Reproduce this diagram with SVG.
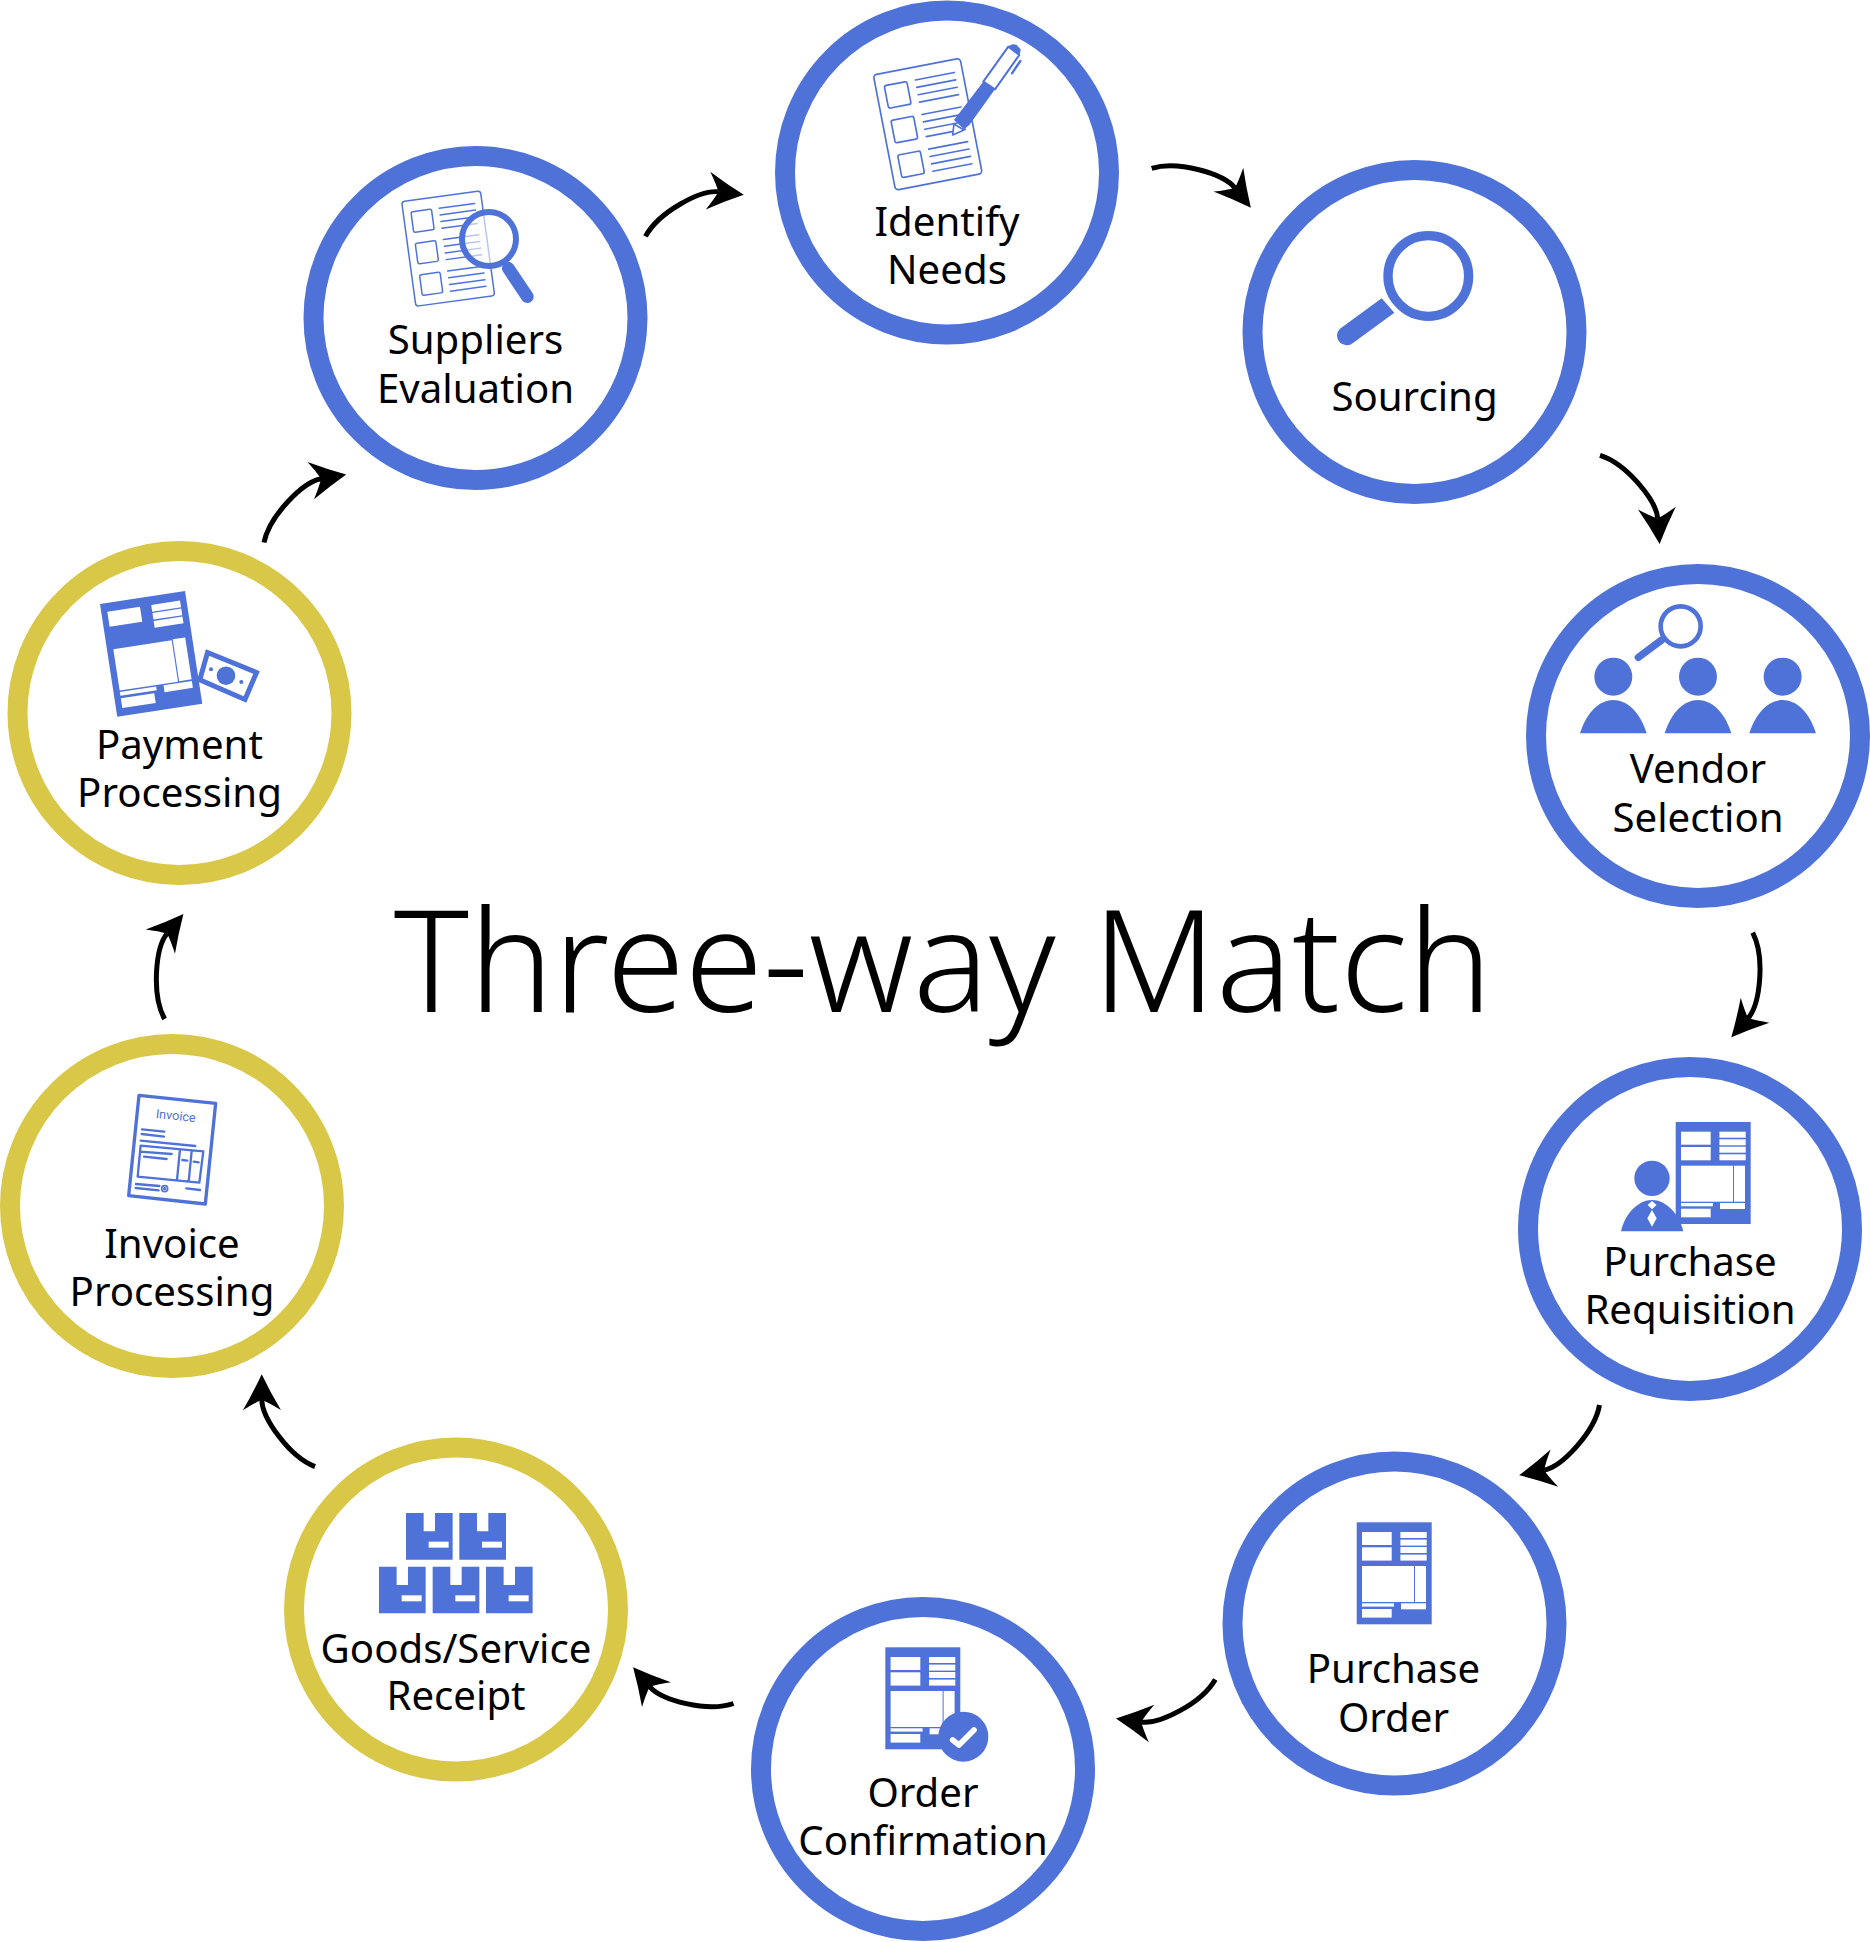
<svg xmlns="http://www.w3.org/2000/svg" xmlns:xlink="http://www.w3.org/1999/xlink" width="1870" height="1942" viewBox="0 0 1870 1942">
<style>
.ring{fill:#fff;stroke-width:20}
.b{stroke:#4f72d9}
.y{stroke:#d9c747}
.l{font-family:"Noto Sans","Open Sans",sans-serif;font-size:40.2px;text-anchor:middle;fill:#000}
.t{font-family:"Noto Sans","Open Sans",sans-serif;font-size:141.8px;font-weight:300;text-anchor:middle;fill:#000}
.f{fill:#4f72d9}
.w{fill:#fff}
.s{fill:none;stroke:#4f72d9;stroke-linecap:round;stroke-linejoin:round}
.arc{fill:none;stroke:#000;stroke-width:5;marker-end:url(#head)}
</style>
<defs>
<marker id="head" markerUnits="userSpaceOnUse" viewBox="-38 -21 40 42" refX="-25.500" refY="0" markerWidth="40" markerHeight="42" orient="auto" overflow="visible">
<path d="M0,0 Q-18,-8.500 -36,-19 Q-29,-8 -25.500,0 Q-29,8 -36,19 Q-18,8.500 0,0Z" fill="#000"/>
</marker>
<g id="form">
<rect class="f" width="75" height="102"/>
<g class="w">
<rect x="5.300" y="9.700" width="29.700" height="13"/><rect x="5.300" y="25" width="29.700" height="13.300"/>
<rect x="43.700" y="9.700" width="26.300" height="6"/><rect x="43.700" y="17.300" width="26.300" height="6"/><rect x="43.700" y="24.700" width="26.300" height="6"/><rect x="43.700" y="32.300" width="26.300" height="6"/>
<rect x="5.300" y="43.700" width="52" height="36"/><rect x="58.300" y="43.700" width="11" height="36"/>
<rect x="5.300" y="81" width="32" height="3.300"/><rect x="5.300" y="86.700" width="29.700" height="8.600"/><rect x="44.300" y="81" width="25" height="6"/>
</g>
</g>
<g id="doc" class="s" stroke-width="5">
<rect width="265" height="352" rx="10"/>
<rect x="26" y="38" width="69" height="69" rx="6"/><rect x="26" y="144" width="69" height="69" rx="6"/><rect x="26" y="250" width="69" height="69" rx="6"/>
<path d="M121,38.500H240M121,61H240M121,83.500H240M121,106H240M121,144H240M121,166.500H240M121,189H240M121,211.500H240M121,250H240M121,272.500H240M121,295H240M121,317.500H240"/>
</g>
<g id="p"><circle cx="250" cy="320" r="57"/><path d="M150,490C170,425 210,390 250,390C290,390 330,425 350,490Z"/></g>
<g id="box"><path d="M0,0H53V55H87V0H140V140H0Z"/><rect class="w" x="68" y="86" width="60" height="18"/></g>
</defs>
<rect width="1870" height="1942" fill="#fff"/>
<g id="connectors">
<path class="arc" d="M0,0C21.500,-17 68.900,-21 84.700,-11.800" transform="translate(1151.700,168.300) rotate(21.200)"/>
<path class="arc" d="M0,0C21.500,-17 68.900,-21 84.700,-11.800" transform="translate(1600,455.400) rotate(55.500)"/>
<path class="arc" d="M0,0C21.500,-17 68.900,-21 84.700,-11.800" transform="translate(1752.700,932.700) rotate(101)"/>
<path class="arc" d="M0,0C21.500,-17 68.900,-21 84.700,-11.800" transform="translate(1599.500,1405) rotate(138.300)"/>
<path class="arc" d="M0,0C21.500,-17 68.900,-21 84.700,-11.800" transform="translate(1215.300,1679.400) rotate(158)"/>
<path class="arc" d="M0,0C21.500,-17 68.900,-21 84.700,-11.800" transform="translate(733.500,1703.500) rotate(199.300)"/>
<path class="arc" d="M0,0C21.500,-17 68.900,-21 84.700,-11.800" transform="translate(315,1466.700) rotate(239.500)"/>
<path class="arc" d="M0,0C21.500,-17 68.900,-21 84.700,-11.800" transform="translate(164.600,1019) rotate(279.600)"/>
<path class="arc" d="M0,0C21.500,-17 68.900,-21 84.700,-11.800" transform="translate(264,542.500) rotate(319.800)"/>
<path class="arc" d="M0,0C21.500,-17 68.900,-21 84.700,-11.800" transform="translate(645.500,236.400) rotate(336.500)"/>
</g>
<text id="title" class="t" x="943" y="1012">Three-way Match</text>
<g id="identify-needs">
<circle class="ring b" cx="947" cy="172.500" r="162"/>
<g transform="translate(760,0) scale(.3333)">
<use xlink:href="#doc" href="#doc" transform="translate(340,225) rotate(-10.900)"/>
<path class="f" d="M582,360L670,245L705,268L628,375L612,388Z"/>
<path class="s" stroke-width="6" style="fill:#fff" d="M670,245L745,140L778,165L705,268Z"/>
<path class="f" d="M745,140Q755,128 770,135L782,148Q782,158 778,165Z"/>
<path class="s" stroke-width="7" d="M781,183L756,220"/>
<path class="s" stroke-width="5" style="fill:#fff" d="M582,372L578,405L612,390Z"/>
</g>
<text class="l" x="947" y="235.500">Identify</text><text class="l" x="947" y="283.500">Needs</text>
</g>
<g id="sourcing">
<circle class="ring b" cx="1414.500" cy="332" r="162"/>
<g transform="translate(1300,210) scale(.3333)">
<circle class="s" cx="385" cy="198" r="121" stroke-width="28"/>
<path class="f" d="M245,265L283,308L160,398A26,26 0 0 1 120,356Z"/>
</g>
<text class="l" x="1414.500" y="410.500">Sourcing</text>
</g>
<g id="vendor-selection">
<circle class="ring b" cx="1698" cy="736" r="162"/>
<g transform="translate(1530,570) scale(.3333)">
<use class="f" xlink:href="#p" href="#p"/><use class="f" xlink:href="#p" href="#p" x="254"/><use class="f" xlink:href="#p" href="#p" x="508"/>
<circle class="s" cx="452" cy="169" r="60" stroke-width="14"/>
<path class="s" stroke-width="22" d="M395,210L325,262"/>
</g>
<text class="l" x="1698" y="783">Vendor</text><text class="l" x="1698" y="832">Selection</text>
</g>
<g id="purchase-requisition">
<circle class="ring b" cx="1690" cy="1229" r="162"/>
<use xlink:href="#form" href="#form" x="1675.700" y="1122"/>
<g transform="translate(1560,1090) scale(.3333)">
<circle class="f" cx="276" cy="265" r="53"/>
<path class="f" d="M183,424C195,370 235,330 276,330C317,330 357,370 370,424Z"/>
<path class="w" d="M276,333L290,345L276,358L263,345ZM276,360L290,385L276,410L262,385Z"/>
</g>
<text class="l" x="1690" y="1276">Purchase</text><text class="l" x="1690" y="1324">Requisition</text>
</g>
<g id="purchase-order">
<circle class="ring b" cx="1394.500" cy="1623.500" r="162"/>
<use xlink:href="#form" href="#form" x="1356.700" y="1522.300"/>
<text class="l" x="1393.500" y="1683">Purchase</text><text class="l" x="1393.500" y="1731.500">Order</text>
</g>
<g id="order-confirmation">
<circle class="ring b" cx="923" cy="1769" r="162"/>
<use xlink:href="#form" href="#form" x="885.300" y="1647.300"/>
<g transform="translate(860,1630) scale(.3333)">
<circle class="f" cx="310" cy="320" r="75"/>
<path d="M278,330L297,345L342,300" fill="none" stroke="#fff" stroke-width="17" stroke-linecap="round" stroke-linejoin="round"/>
</g>
<text class="l" x="923" y="1806.500">Order</text><text class="l" x="923" y="1854.500">Confirmation</text>
</g>
<g id="goods-service-receipt">
<circle class="ring y" cx="456" cy="1609.500" r="162"/>
<g class="f" transform="translate(360,1490) scale(.3333)">
<use xlink:href="#box" href="#box" x="138" y="69"/><use xlink:href="#box" href="#box" x="298" y="69"/>
<use xlink:href="#box" href="#box" x="57" y="230"/><use xlink:href="#box" href="#box" x="218" y="230"/><use xlink:href="#box" href="#box" x="378" y="230"/>
</g>
<text class="l" x="456" y="1662.500">Goods/Service</text><text class="l" x="456" y="1710">Receipt</text>
</g>
<g id="invoice-processing">
<circle class="ring y" cx="172" cy="1206" r="162"/>
<g transform="translate(100,1070) scale(.3333)">
<path class="s" stroke-width="10" d="M117,76L347,100L316,402L86,377Z"/>
<text transform="translate(226,150) rotate(6)" text-anchor="middle" font-family="Roboto,sans-serif" font-size="38" fill="#4f72d9">Invoice</text>
<path class="s" stroke-width="7" d="M126,178L193,185M125,192L192,200M122,212L286,228M122,227L310,244L298,338L113,320ZM240,238L231,330M275,243L266,335M120,245L215,252M132,260L200,267M247,270L262,272M281,275L296,277M108,342L178,348M107,354L176,361M259,355L300,360"/>
<circle class="s" cx="194" cy="356" r="9" stroke-width="5"/><circle class="f" cx="194" cy="356" r="5"/>
</g>
<text class="l" x="172" y="1257.500">Invoice</text><text class="l" x="172" y="1305.500">Processing</text>
</g>
<g id="payment-processing">
<circle class="ring y" cx="179.500" cy="713" r="162"/>
<g transform="translate(100,604) rotate(-8.700) scale(1.147)">
<rect class="f" width="75" height="99.400"/>
<g class="w">
<rect x="5.300" y="7.600" width="28.800" height="13.200"/>
<rect x="44" y="7.600" width="25.400" height="5.900"/><rect x="44" y="14.600" width="25.400" height="5.900"/><rect x="44" y="21.700" width="25.400" height="6"/>
<rect x="5.500" y="40.800" width="51.500" height="36.400"/><rect x="58" y="40" width="11" height="37"/>
<rect x="5.500" y="78.500" width="32" height="3.300"/><rect x="5.500" y="84" width="29.500" height="8.600"/><rect x="44" y="78.500" width="25" height="6"/>
</g>
</g>
<polygon class="s" style="fill:#fff;stroke-linejoin:miter" stroke-width="5" points="207.500,652.500 256.500,672.500 245,699.500 199.800,679.800"/>
<circle class="f" cx="226" cy="675.700" r="9.300"/><circle class="f" cx="211" cy="669.300" r="2"/><circle class="f" cx="241.300" cy="682" r="2"/>
<text class="l" x="179.500" y="758.500">Payment</text><text class="l" x="179.500" y="806.500">Processing</text>
</g>
<g id="suppliers-evaluation">
<circle class="ring b" cx="475.500" cy="318" r="162"/>
<g transform="translate(300,140) scale(.3333)">
<use xlink:href="#doc" href="#doc" transform="translate(305,185) rotate(-7.750) scale(.9)"/>
<circle cx="567" cy="297" r="81" fill="#fff" fill-opacity=".6" stroke="#4f72d9" stroke-width="18"/>
<path class="s" stroke-width="38" d="M625,385L682,470"/>
</g>
<text class="l" x="475.500" y="354">Suppliers</text><text class="l" x="475.500" y="403">Evaluation</text>
</g>
</svg>
